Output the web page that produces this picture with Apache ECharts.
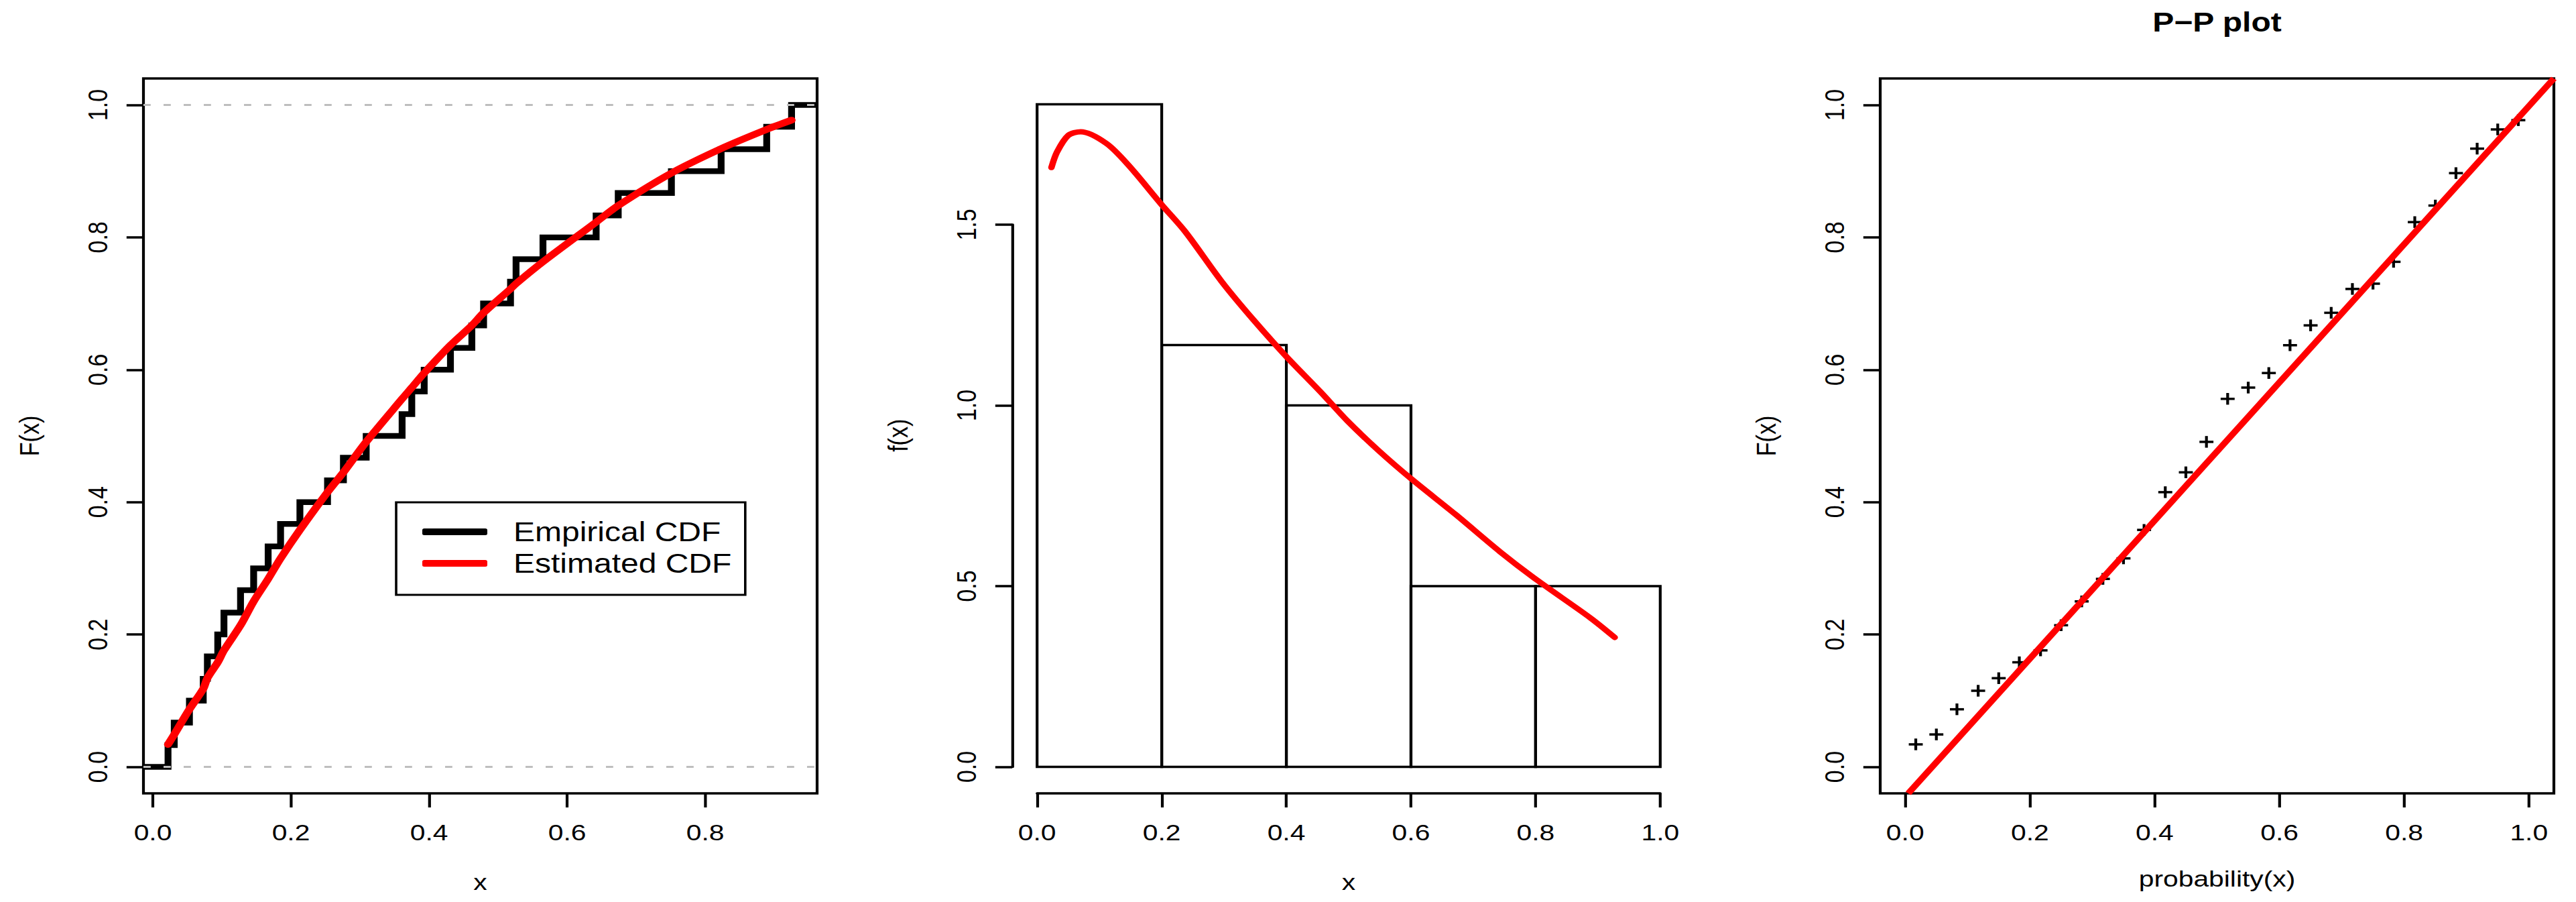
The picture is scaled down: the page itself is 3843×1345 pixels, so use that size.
<!DOCTYPE html>
<html>
<head>
<meta charset="utf-8">
<script src="https://cdn.jsdelivr.net/npm/echarts@6/dist/echarts.min.js"></script>
<style>
html,body{margin:0;padding:0;background:#fff;overflow:hidden;}
#wrap{width:3843px;height:1345px;overflow:hidden;background:#fff;}
#chart{width:3202.5px;height:1345px;transform:scaleX(1.2);transform-origin:0 0;}
</style>
</head>
<body>
<div id="wrap"><div id="chart"></div></div>
<script>
// ---------- data ----------
const ecdfX = [0.022, 0.031, 0.053, 0.073, 0.079, 0.094, 0.103, 0.127, 0.146, 0.167,
               0.185, 0.213, 0.253, 0.276, 0.309, 0.361, 0.375, 0.393, 0.431, 0.462,
               0.479, 0.518, 0.526, 0.565, 0.642, 0.674, 0.751, 0.823, 0.889, 0.925];
const ecdfY = [0.033, 0.067, 0.100, 0.133, 0.167, 0.200, 0.233, 0.267, 0.300, 0.333,
               0.367, 0.400, 0.433, 0.467, 0.500, 0.533, 0.567, 0.600, 0.633, 0.667,
               0.700, 0.733, 0.767, 0.800, 0.833, 0.867, 0.900, 0.933, 0.967, 1.000];
const estCdf = [0.034, 0.049, 0.087, 0.118, 0.134, 0.158, 0.176, 0.214, 0.250, 0.284,
                0.315, 0.358, 0.415, 0.445, 0.491, 0.556, 0.573, 0.595, 0.637, 0.667,
                0.686, 0.722, 0.730, 0.763, 0.823, 0.848, 0.897, 0.934, 0.963, 0.977];
const histBreaks = [0.0, 0.2, 0.4, 0.6, 0.8, 1.0];
const histDensity = [1.833, 1.167, 1.000, 0.500, 0.500];
const densX = [0.023, 0.032, 0.050, 0.070, 0.111, 0.147, 0.200, 0.238, 0.296, 0.346,
               0.400, 0.455, 0.498, 0.548, 0.601, 0.671, 0.743, 0.802, 0.888, 0.927];
const densY = [1.658, 1.701, 1.747, 1.757, 1.725, 1.664, 1.555, 1.480, 1.343, 1.239,
               1.135, 1.037, 0.957, 0.875, 0.796, 0.699, 0.595, 0.517, 0.412, 0.358];
const ppProb = [0.017, 0.050, 0.083, 0.117, 0.150, 0.183, 0.217, 0.250, 0.283, 0.317,
                0.350, 0.383, 0.417, 0.450, 0.483, 0.517, 0.550, 0.583, 0.617, 0.650,
                0.683, 0.717, 0.750, 0.783, 0.817, 0.850, 0.883, 0.917, 0.950, 0.983];
const ppF = [0.034, 0.049, 0.087, 0.115, 0.134, 0.158, 0.176, 0.214, 0.250, 0.284,
             0.315, 0.358, 0.415, 0.445, 0.491, 0.556, 0.573, 0.595, 0.637, 0.667,
             0.686, 0.722, 0.730, 0.763, 0.823, 0.848, 0.897, 0.934, 0.963, 0.977];
const refLineX = [0.005, 1.04];
const refLineY = [-0.04, 1.04];
const tickRange01 = [0.0, 1.0];      // tick labels 0.0, 0.2, ..., 1.0
const tickRangeCdfX = [0.0, 0.8];    // tick labels 0.0, 0.2, ..., 0.8
const tickRangeDens = [0.0, 1.5];    // tick labels 0.0, 0.5, 1.0, 1.5
const legendNames = ['Empirical CDF', 'Estimated CDF'];
const ppTitle = 'P\u2212P plot';

// ---------- layout (page is stretched horizontally by K) ----------
const K = 1.2;
const S = v => v / K;
const FONT = "'Liberation Sans', Arial, Helvetica, sans-serif";
const TICK_FS = 34;
const LW = 3.5;

const leftX = {min: -0.0136, max: 0.962};
const unitY = {min: -0.04, max: 1.04};
const unitX = {min: -0.04, max: 1.04};
const histY = {min: -0.0733, max: 1.907};

// plot regions in full-page pixels
const PL = {x0: 214, x1: 1219, y0: 117, y1: 1183};
const PM = {x0: 1510, x1: 2514, y0: 115.6, y1: 1183};
const PR = {x0: 2805, x1: 3810, y0: 117, y1: 1183};

const box = P => ({left: S(P.x0), top: P.y0, width: S(P.x1 - P.x0), height: P.y1 - P.y0});
// sub-rectangle spanning the data range [a, b] of an axis inside a plot region
const xSpan = (P, ext, a, b) => {
  const k = (P.x1 - P.x0) / (ext.max - ext.min);
  const xa = P.x0 + (a - ext.min) * k, xb = P.x0 + (b - ext.min) * k;
  return {left: S(xa), width: S(xb - xa), top: P.y0, height: P.y1 - P.y0};
};
const ySpan = (P, ext, a, b) => {
  const k = (P.y1 - P.y0) / (ext.max - ext.min);
  const ya = P.y1 - (a - ext.min) * k, yb = P.y1 - (b - ext.min) * k;
  return {left: S(P.x0), width: S(P.x1 - P.x0), top: yb, height: ya - yb};
};

const fmt = v => v.toFixed(1);
const hidden = gi => ({gridIndex: gi, type: 'value', min: 0, max: 1, show: false});
function tickAxis(gi, range, interval, opts) {
  const o = opts || {};
  return {
    gridIndex: gi, type: 'value', min: range[0], max: range[1], interval: interval,
    axisLine: {show: !!o.line, onZero: false, lineStyle: {color: '#000', width: LW}},
    axisTick: {show: true, inside: false, length: 21, lineStyle: {color: '#000', width: LW}},
    axisLabel: {show: true, color: '#000', fontSize: TICK_FS, fontFamily: FONT,
                margin: o.rotate ? 40 : 41, rotate: o.rotate || 0, formatter: fmt},
    splitLine: {show: false}
  };
}
function nameAxis(gi, ext, name, gap) {
  return {
    gridIndex: gi, type: 'value', min: ext.min, max: ext.max,
    name: name, nameLocation: 'middle', nameGap: gap,
    nameTextStyle: {color: '#000', fontSize: TICK_FS, fontFamily: FONT},
    axisLine: {show: false, onZero: false}, axisTick: {show: false}, axisLabel: {show: false},
    splitLine: {show: false}
  };
}

const ecdfData = [[leftX.min, 0]].concat(ecdfX.map((x, i) => [x, ecdfY[i]])).concat([[leftX.max, 1]]);
const estData = ecdfX.map((x, i) => [x, estCdf[i]]);
const histData = histDensity.map((d, i) => [histBreaks[i], histBreaks[i + 1], d]);
const densData = densX.map((x, i) => [x, densY[i]]);
const ppData = ppProb.map((p, i) => [p, ppF[i]]);
const refData = refLineX.map((x, i) => [x, refLineY[i]]);

const boxed = b => Object.assign({show: true, borderColor: '#000', borderWidth: LW, backgroundColor: 'transparent'}, b);

const chart = echarts.init(document.getElementById('chart'), null, {renderer: 'svg'});
chart.setOption({
  backgroundColor: '#fff',
  animation: false,
  textStyle: {fontFamily: FONT, color: '#000'},
  title: {
    text: ppTitle, left: S((PR.x0 + PR.x1) / 2), top: 13, textAlign: 'center', padding: 0,
    textStyle: {fontSize: 40, fontWeight: 'bold', color: '#000', fontFamily: FONT}
  },
  legend: {
    data: legendNames, orient: 'vertical', left: S(591), top: 749,
    padding: [20.5, 17, 23.5, S(630 - 591)],
    itemWidth: S(97), itemHeight: 10, itemGap: 0, icon: 'roundRect',
    backgroundColor: '#fff', borderColor: '#000', borderWidth: 3, borderRadius: 0,
    textStyle: {fontSize: 40, color: '#000', fontFamily: FONT, lineHeight: 47, padding: [0, 0, 0, 27.5]},
    selectedMode: false
  },
  grid: [
    boxed(box(PL)),                                   // 0 left data + box
    xSpan(PL, leftX, tickRangeCdfX[0], tickRangeCdfX[1]), // 1 left x ticks
    ySpan(PL, unitY, tickRange01[0], tickRange01[1]),     // 2 left y ticks
    box(PM),                                          // 3 middle data
    xSpan(PM, unitX, tickRange01[0], tickRange01[1]), // 4 middle x axis
    ySpan(PM, histY, tickRangeDens[0], tickRangeDens[1]), // 5 middle y axis
    boxed(box(PR)),                                   // 6 right data + box
    xSpan(PR, unitX, tickRange01[0], tickRange01[1]), // 7 right x ticks
    ySpan(PR, unitY, tickRange01[0], tickRange01[1])  // 8 right y ticks
  ],
  xAxis: [
    nameAxis(0, leftX, 'x', 115),
    tickAxis(1, tickRangeCdfX, 0.2),
    hidden(2),
    nameAxis(3, unitX, 'x', 115),
    tickAxis(4, tickRange01, 0.2, {line: true}),
    hidden(5),
    nameAxis(6, unitX, 'probability(x)', 110),
    tickAxis(7, tickRange01, 0.2),
    hidden(8)
  ],
  yAxis: [
    nameAxis(0, unitY, 'F(x)', 125),
    hidden(1),
    tickAxis(2, tickRange01, 0.2, {rotate: 90}),
    nameAxis(3, histY, 'f(x)', 125),
    hidden(4),
    tickAxis(5, tickRangeDens, 0.5, {line: true, rotate: 90}),
    nameAxis(6, unitY, 'F(x)', 125),
    hidden(7),
    tickAxis(8, tickRange01, 0.2, {rotate: 90})
  ],
  series: [
    {
      name: legendNames[0], type: 'line', xAxisIndex: 0, yAxisIndex: 0, data: ecdfData,
      step: 'end', symbol: 'none', color: '#000',
      lineStyle: {color: '#000', width: 8.5, cap: 'butt', join: 'miter'},
      markLine: {
        silent: true, symbol: ['none', 'none'], label: {show: false},
        lineStyle: {color: '#bebebe', width: 3, type: [9, 16]},
        data: [{yAxis: 0}, {yAxis: 1}]
      },
      z: 2
    },
    {
      name: legendNames[1], type: 'line', xAxisIndex: 0, yAxisIndex: 0, data: estData,
      smooth: 0.3, symbol: 'none', color: '#ff0000',
      lineStyle: {color: '#ff0000', width: 10, cap: 'round', join: 'round'},
      z: 3
    },
    {
      type: 'custom', xAxisIndex: 3, yAxisIndex: 3, data: histData,
      encode: {x: [0, 1], y: 2},
      renderItem: function (params, api) {
        const p0 = api.coord([api.value(0), 0]);
        const p1 = api.coord([api.value(1), api.value(2)]);
        return {type: 'rect', shape: {x: p0[0], y: p1[1], width: p1[0] - p0[0], height: p0[1] - p1[1]},
                style: {fill: 'none', stroke: '#000', lineWidth: LW}};
      },
      z: 2
    },
    {
      type: 'line', xAxisIndex: 3, yAxisIndex: 3, data: densData, smooth: 0.3, symbol: 'none',
      lineStyle: {color: '#ff0000', width: 8, cap: 'round', join: 'round'}, z: 3
    },
    {
      type: 'custom', xAxisIndex: 6, yAxisIndex: 6, data: ppData,
      renderItem: function (params, api) {
        const p = api.coord([api.value(0), api.value(1)]);
        const h = 8.7;
        return {type: 'group', children: [
          {type: 'line', shape: {x1: p[0] - h, y1: p[1], x2: p[0] + h, y2: p[1]}, style: {stroke: '#000', lineWidth: LW}},
          {type: 'line', shape: {x1: p[0], y1: p[1] - h, x2: p[0], y2: p[1] + h}, style: {stroke: '#000', lineWidth: LW}}
        ]};
      },
      z: 2
    },
    {
      type: 'line', xAxisIndex: 6, yAxisIndex: 6, data: refData, symbol: 'none',
      lineStyle: {color: '#ff0000', width: 8.5, cap: 'butt'}, z: 3
    }
  ]
});
</script>
</body>
</html>
